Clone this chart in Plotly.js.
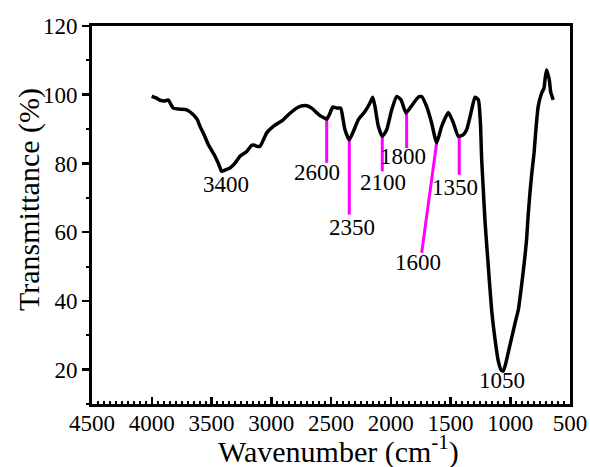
<!DOCTYPE html>
<html>
<head>
<meta charset="utf-8">
<script src="https://cdn.plot.ly/plotly-3.0.1.min.js"></script>
<style>html,body{margin:0;padding:0;background:#fff;}#chart{width:590px;height:467px;}</style>
</head>
<body>
<div id="chart"></div>
<script>
// FTIR spectrum (wavenumber in cm^-1, transmittance in %)
var wavenumber = [4000,3975,3959,3930,3889,3862,3840,3820,3764,3708,3652,3620,3596,3560,3527,3471,3440,3415,3380,3345,3303,3262,3205,3164,3140,3122,3094,3060,3038,2983,2900,2843,2800,2759,2703,2662,2620,2592,2560,2536,2510,2486,2452,2419,2400,2383,2347,2313,2272,2216,2174,2151,2132,2104,2071,2034,1992,1950,1914,1872,1825,1769,1741,1700,1658,1616,1574,1518,1476,1435,1393,1365,1323,1295,1267,1250,1239,1225,1211,1190,1155,1128,1100,1075,1058,1040,1030,1000,960,932,900,880,863,850,835,820,801,785,766,737,718,707,696,685,673,662,650,640];
var transmittance = [99.6,99.2,99.0,98.4,98.2,98.5,97.2,96.1,95.8,95.6,94.2,92.8,90.8,88.2,85.5,82.1,79.8,77.7,78.2,78.7,80.1,82.1,83.5,85.3,85.3,85.0,85.0,87.3,88.9,90.8,92.7,94.6,95.8,96.6,96.8,96.1,94.8,93.9,93.3,92.9,94.5,96.4,96.1,96.1,93.0,89.8,86.9,89.3,92.7,95.1,97.6,99.3,96.6,90.8,87.9,89.8,95.6,99.5,98.5,94.7,96.8,99.3,99.5,96.6,91.8,86.0,90.8,94.8,91.8,87.9,88.4,89.8,95.6,99.3,98.5,92,81.1,72,63,53,37,29,22.5,19.8,19.6,21.5,23,27.5,33.5,37.5,46,52,58,65,71.5,77,83,90,96.6,100.5,101.9,105,107.2,106,104.3,100.9,99.5,98.5];

// Peak labels
var peakLabels = ["3400","2600","2350","2100","1800","1600","1350","1050"];
var labelX = [3381,2617,2327,2062,1895,1769,1462,1072];
var labelY = [74.0,77.3,61.4,74.5,82.1,51.1,72.9,16.8];

// Magenta marker lines (from band down to label)
var markX0 = [2536,2347,2071,1867,1616,1427];
var markY0 = [93.0,86.9,87.9,94.7,86.0,87.9];
var markX1 = [2536,2347,2071,1867,1741,1427];
var markY1 = [80.2,65.1,77.7,84.5,54.0,76.7];

var xTicks = [4500,4000,3500,3000,2500,2000,1500,1000,500];
var yTicks = [20,40,60,80,100,120];

var xTitle = "Wavenumber (cm<sup>-1</sup>)";
var yTitle = "Transmittance (%)";

var FONT = "Liberation Serif";

var trace = {
  x: wavenumber, y: transmittance, type: "scatter", mode: "lines",
  line: {color: "#000", width: 3.5, shape: "spline", smoothing: 0.5},
  hoverinfo: "skip"
};

var annotations = peakLabels.map(function(t, i){
  return {x: labelX[i], y: labelY[i], xref: "x", yref: "y", text: t, showarrow: false,
          xanchor: "center", yanchor: "middle", font: {family: FONT, size: 23, color: "#000"}};
});
// axis titles placed as paper annotations for exact position
annotations.push({x: 0.515, y: -0.121, xref: "paper", yref: "paper", text: xTitle, showarrow: false,
  xanchor: "center", yanchor: "middle", font: {family: FONT, size: 30, color: "#000"}});
annotations.push({x: -0.132, y: 0.542, xref: "paper", yref: "paper", text: yTitle, showarrow: false,
  textangle: -90, xanchor: "center", yanchor: "middle", font: {family: FONT, size: 30, color: "#000"}});

var shapes = markX0.map(function(x0, i){
  return {type: "line", xref: "x", yref: "y", x0: x0, y0: markY0[i], x1: markX1[i], y1: markY1[i],
          line: {color: "#ff00ff", width: 3}, layer: "below"};
});

var layout = {
  width: 590, height: 467,
  margin: {l: 92, r: 20, t: 26, b: 63},
  paper_bgcolor: "#fff", plot_bgcolor: "#fff",
  showlegend: false,
  font: {family: FONT, color: "#000", size: 23},
  xaxis: {
    range: [4500, 500], tickvals: xTicks, ticktext: xTicks.map(String),
    ticks: "inside", ticklen: 7, tickwidth: 2.5, tickcolor: "#000",
    minor: {dtick: 50, tick0: 0, ticks: "inside", ticklen: 3, tickwidth: 2, tickcolor: "#000"},
    showline: true, linewidth: 3, linecolor: "#000", mirror: true,
    showgrid: false, zeroline: false, ticklabelstandoff: -4,
    tickfont: {family: FONT, size: 23, color: "#000"}
  },
  yaxis: {
    range: [10, 120], tickvals: yTicks, ticktext: yTicks.map(String),
    ticks: "outside", ticklen: 7, tickwidth: 2.5, tickcolor: "#000",
    minor: {dtick: 10, tick0: 0, ticks: "outside", ticklen: 3.5, tickwidth: 2, tickcolor: "#000"},
    showline: true, linewidth: 3, linecolor: "#000", mirror: true,
    showgrid: false, zeroline: false,
    tickfont: {family: FONT, size: 23, color: "#000"}
  },
  annotations: annotations,
  shapes: shapes
};

Plotly.newPlot("chart", [trace], layout, {staticPlot: true, displayModeBar: false});
</script>
</body>
</html>
